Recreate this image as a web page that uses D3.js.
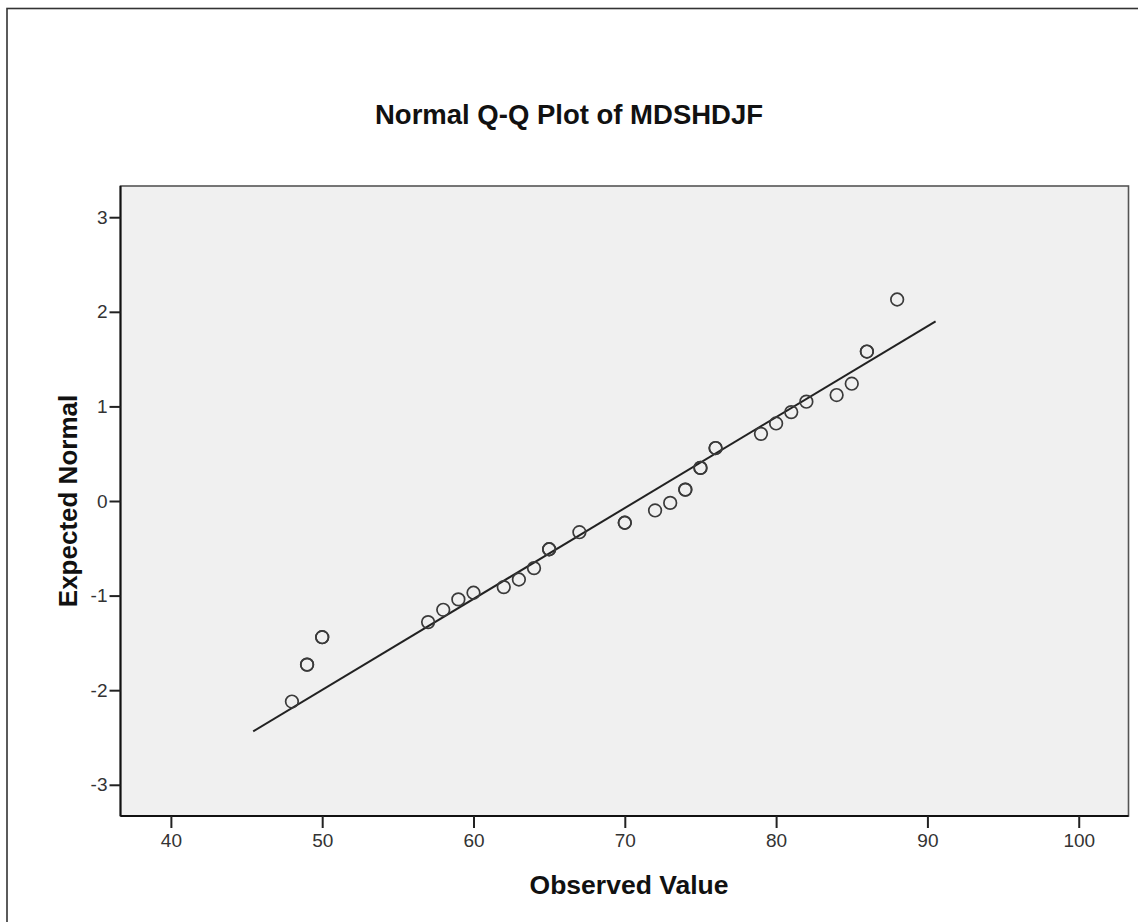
<!DOCTYPE html>
<html>
<head>
<meta charset="utf-8">
<script src="https://cdn.jsdelivr.net/npm/d3@7"></script>
<style>
  html, body { margin: 0; padding: 0; background: #fff; }
  svg { display: block; }
  text { font-family: "Liberation Sans", Arial, sans-serif; }
</style>
</head>
<body>
<svg id="chart" width="1138" height="922"></svg>
<script>
// ---- data ----
const observed = [48, 49, 50, 57, 58, 59, 60, 62, 63, 64, 65, 67, 70, 72, 73, 74, 75, 76, 79, 80, 81, 82, 84, 85, 86, 88];
const expected = [-2.12, -1.73, -1.44, -1.28, -1.15, -1.04, -0.97, -0.91, -0.83, -0.71, -0.51, -0.33, -0.23, -0.10, -0.02, 0.12, 0.35, 0.56, 0.71, 0.82, 0.94, 1.05, 1.12, 1.24, 1.58, 2.13];
const counts   = [1, 2, 2, 1, 1, 1, 1, 1, 1, 1, 2, 1, 2, 1, 1, 2, 2, 2, 1, 1, 1, 1, 1, 1, 2, 1];
const lineObserved = [45.44, 90.54];
const lineExpected = [-2.435, 1.90];
const xTicks = [40, 50, 60, 70, 80, 90, 100];
const yTicks = [-3, -2, -1, 0, 1, 2, 3];
const title = "Normal Q-Q Plot of MDSHDJF";
const xLabel = "Observed Value";
const yLabel = "Expected Normal";

const svg = d3.select("#chart");
const plot = { left: 120.5, right: 1128.5, top: 186, bottom: 816 };

const x = d3.scaleLinear().domain([36.67, 103.29]).range([plot.left, plot.right]);
const y = d3.scaleLinear().domain([-3.33, 3.33]).range([plot.bottom, plot.top]);

// outer frame
svg.append("rect").attr("x", 7).attr("y", 8.5).attr("width", 1300).attr("height", 1100)
  .attr("fill", "#fff").attr("stroke", "#333").attr("stroke-width", 1.6);

// plot background
svg.append("rect")
  .attr("x", plot.left).attr("y", plot.top)
  .attr("width", plot.right - plot.left).attr("height", plot.bottom - plot.top)
  .attr("fill", "#f0f0f0").attr("stroke", "#555").attr("stroke-width", 1.6);

// axes
const fmt = d => String(d);
const xAxis = d3.axisBottom(x).tickValues(xTicks).tickFormat(fmt).tickSize(12).tickSizeOuter(0).tickPadding(6);
const yAxis = d3.axisLeft(y).tickValues(yTicks).tickFormat(fmt).tickSize(11).tickSizeOuter(0).tickPadding(2);

const gx = svg.append("g").attr("transform", `translate(0,${plot.bottom})`).call(xAxis);
const gy = svg.append("g").attr("transform", `translate(${plot.left},0)`).call(yAxis);
[gx, gy].forEach(g => {
  g.select(".domain").attr("stroke", "#111").attr("stroke-width", 2);
  g.selectAll(".tick line").attr("stroke", "#222").attr("stroke-width", 2);
  g.selectAll(".tick text").attr("fill", "#333").style("font-size", "19px")
    .style("font-family", "'Liberation Sans', Arial, sans-serif");
});
gx.select(".domain").attr("d", `M${plot.left},0H${plot.right}`);
gy.select(".domain").attr("d", `M0,${plot.top}V${plot.bottom}`);

// reference line
svg.append("line")
  .attr("x1", x(lineObserved[0])).attr("y1", y(lineExpected[0]))
  .attr("x2", x(lineObserved[1])).attr("y2", y(lineExpected[1]))
  .attr("stroke", "#222").attr("stroke-width", 2);

// points (ties drawn more than once, so they look heavier)
const pts = [];
observed.forEach((v, i) => { for (let k = 0; k < counts[i]; k++) pts.push({ x: v, y: expected[i] }); });
svg.append("g").selectAll("circle").data(pts).join("circle")
  .attr("cx", d => x(d.x)).attr("cy", d => y(d.y)).attr("r", 6.3)
  .attr("fill", "none").attr("stroke", "#3a3a3a").attr("stroke-width", 1.7);

// titles
svg.append("text").attr("x", 569).attr("y", 124).attr("text-anchor", "middle")
  .style("font-size", "27.5px").style("font-weight", "bold").attr("fill", "#111").text(title);
svg.append("text").attr("x", 629).attr("y", 894).attr("text-anchor", "middle")
  .style("font-size", "26.5px").style("font-weight", "bold").attr("fill", "#111").text(xLabel);
svg.append("text").attr("transform", `translate(77,${(plot.top + plot.bottom) / 2}) rotate(-90)`)
  .attr("text-anchor", "middle")
  .style("font-size", "26px").style("font-weight", "bold").attr("fill", "#111").text(yLabel);
</script>
</body>
</html>
